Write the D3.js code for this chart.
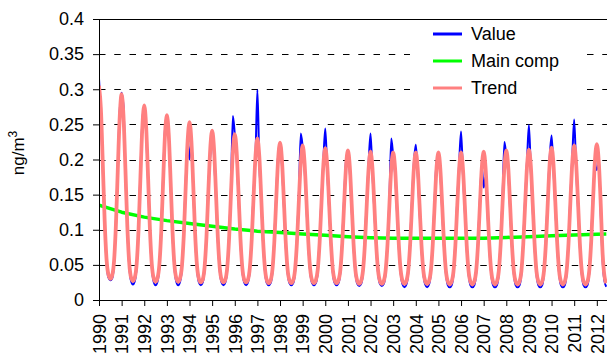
<!DOCTYPE html>
<html><head><meta charset="utf-8">
<script src="https://cdn.jsdelivr.net/npm/d3@7"></script>
<style>
body{margin:0;background:#fff}
svg{display:block}
text{font-family:Arial,"Liberation Sans",sans-serif;fill:#000}
</style>
</head><body>
<svg id="chart" width="607" height="358"></svg>
<script>
// ---- data ----
const startYear = 1990;
const yearTicks = d3.range(1990, 2013);
const yTicks = [0, 0.05, 0.1, 0.15, 0.2, 0.25, 0.3, 0.35, 0.4];
const seriesNames = ["Value", "Main comp", "Trend"];
const seriesColors = ["#0000ff", "#00ff00", "#ff8080"];

// monthly Trend, Jan 1990 .. Jun 2012
const trendValues = [
  0.305,0.272,0.195,0.113,0.058,0.036,0.030,0.035,0.056,0.109,0.188,0.261, // 1990
  0.293,0.261,0.187,0.107,0.054,0.032,0.027,0.032,0.052,0.102,0.177,0.247, // 1991
  0.277,0.247,0.177,0.101,0.051,0.031,0.026,0.031,0.050,0.097,0.168,0.235, // 1992
  0.263,0.235,0.168,0.097,0.050,0.031,0.026,0.031,0.049,0.094,0.162,0.226, // 1993
  0.253,0.226,0.162,0.093,0.048,0.030,0.025,0.029,0.047,0.090,0.155,0.215, // 1994
  0.241,0.215,0.155,0.090,0.047,0.029,0.025,0.029,0.046,0.088,0.152,0.211, // 1995
  0.236,0.211,0.152,0.088,0.046,0.029,0.025,0.029,0.046,0.087,0.148,0.205, // 1996
  0.230,0.205,0.148,0.086,0.045,0.028,0.024,0.028,0.044,0.084,0.144,0.200, // 1997
  0.224,0.200,0.144,0.084,0.044,0.028,0.024,0.028,0.044,0.083,0.142,0.196, // 1998
  0.220,0.196,0.142,0.083,0.044,0.028,0.024,0.028,0.043,0.082,0.139,0.193, // 1999
  0.216,0.193,0.139,0.082,0.043,0.028,0.024,0.028,0.043,0.081,0.137,0.190, // 2000
  0.213,0.190,0.137,0.080,0.042,0.027,0.023,0.027,0.042,0.079,0.136,0.188, // 2001
  0.211,0.188,0.136,0.079,0.042,0.027,0.023,0.027,0.042,0.079,0.135,0.188, // 2002
  0.210,0.188,0.135,0.079,0.042,0.027,0.023,0.027,0.042,0.079,0.135,0.188, // 2003
  0.210,0.188,0.135,0.079,0.042,0.027,0.023,0.027,0.042,0.079,0.135,0.188, // 2004
  0.210,0.187,0.135,0.078,0.041,0.026,0.022,0.026,0.041,0.078,0.135,0.187, // 2005
  0.210,0.187,0.135,0.078,0.041,0.026,0.022,0.026,0.041,0.079,0.135,0.188, // 2006
  0.211,0.188,0.135,0.079,0.041,0.026,0.022,0.026,0.041,0.079,0.137,0.190, // 2007
  0.213,0.190,0.137,0.079,0.041,0.026,0.022,0.026,0.041,0.080,0.137,0.191, // 2008
  0.214,0.191,0.137,0.080,0.041,0.026,0.022,0.026,0.042,0.081,0.139,0.194, // 2009
  0.217,0.194,0.139,0.081,0.042,0.026,0.022,0.026,0.042,0.081,0.141,0.196, // 2010
  0.220,0.196,0.141,0.081,0.042,0.026,0.022,0.026,0.042,0.082,0.142,0.198, // 2011
  0.222,0.198,0.142,0.070,0.035,0.024                                      // 2012
];

// monthly Value, Jan 1990 .. Jun 2012
const valueValues = [
  0.315,0.262,0.187,0.108,0.054,0.032,0.028,0.031,0.053,0.115,0.196,0.270, // 1990
  0.295,0.275,0.180,0.102,0.050,0.027,0.022,0.027,0.049,0.108,0.185,0.255, // 1991
  0.276,0.239,0.169,0.096,0.047,0.026,0.021,0.026,0.047,0.103,0.176,0.243, // 1992
  0.260,0.232,0.160,0.092,0.046,0.026,0.021,0.026,0.046,0.100,0.170,0.224, // 1993
  0.200,0.232,0.154,0.088,0.044,0.025,0.021,0.025,0.044,0.096,0.163,0.205, // 1994
  0.240,0.205,0.147,0.085,0.043,0.025,0.021,0.025,0.043,0.094,0.160,0.262, // 1995
  0.236,0.203,0.144,0.083,0.042,0.025,0.021,0.025,0.043,0.093,0.156,0.205, // 1996
  0.299,0.197,0.140,0.081,0.041,0.024,0.021,0.024,0.041,0.090,0.152,0.206, // 1997
  0.222,0.192,0.136,0.079,0.040,0.024,0.021,0.024,0.041,0.089,0.150,0.237, // 1998
  0.218,0.188,0.134,0.078,0.040,0.024,0.021,0.024,0.040,0.088,0.147,0.200, // 1999
  0.244,0.185,0.131,0.077,0.039,0.024,0.021,0.024,0.040,0.087,0.145,0.198, // 2000
  0.211,0.182,0.129,0.075,0.038,0.023,0.020,0.023,0.039,0.085,0.144,0.196, // 2001
  0.237,0.180,0.128,0.074,0.038,0.023,0.020,0.023,0.039,0.085,0.143,0.230, // 2002
  0.205,0.180,0.127,0.074,0.038,0.022,0.018,0.022,0.039,0.085,0.143,0.196, // 2003
  0.221,0.180,0.127,0.074,0.038,0.022,0.018,0.022,0.039,0.085,0.143,0.196, // 2004
  0.205,0.180,0.127,0.073,0.037,0.021,0.018,0.021,0.038,0.084,0.143,0.195, // 2005
  0.240,0.179,0.127,0.073,0.037,0.021,0.018,0.021,0.038,0.085,0.143,0.190, // 2006
  0.160,0.175,0.127,0.074,0.037,0.021,0.018,0.021,0.038,0.085,0.145,0.225, // 2007
  0.205,0.182,0.129,0.074,0.037,0.021,0.018,0.021,0.038,0.086,0.145,0.199, // 2008
  0.249,0.183,0.129,0.075,0.037,0.021,0.018,0.021,0.039,0.087,0.147,0.202, // 2009
  0.234,0.186,0.131,0.076,0.038,0.021,0.018,0.021,0.039,0.087,0.149,0.204, // 2010
  0.257,0.188,0.133,0.076,0.038,0.021,0.018,0.021,0.039,0.088,0.150,0.190, // 2011
  0.185,0.206,0.130,0.060,0.028,0.019                                      // 2012
];

// Main component (yearly)
const mainYears  = [1990,1991,1992,1993,1994,1995,1996,1997,1998,1999,2000,2001,2002,2003,2004,2005,2006,2007,2008,2009,2010,2011,2012,2012.42];
const mainValues = [0.135,0.125,0.118,0.113,0.109,0.105,0.101,0.098,0.096,0.094,0.092,0.090,0.0887,0.088,0.088,0.088,0.088,0.088,0.089,0.090,0.0915,0.0925,0.0935,0.094];

// ---- chart ----
const W = 607, H = 358;
const m = {left: 99, top: 19, right: 0, bottom: 58};
const svg = d3.select("#chart");

const x = d3.scaleLinear().domain([1990, 2012.45]).range([m.left, W - m.right]);
const y = d3.scaleLinear().domain([0, 0.4]).range([H - m.bottom, m.top]);

const monthX = i => startYear + i / 12;

// gridlines
svg.append("g").selectAll("line")
  .data(yTicks.filter(d => d > 0 && d < 0.4))
  .join("line")
  .attr("x1", x.range()[0]).attr("x2", x.range()[1])
  .attr("y1", d => Math.round(y(d)) + 0.5).attr("y2", d => Math.round(y(d)) + 0.5)
  .attr("stroke", "#000").attr("stroke-width", 1)
  .attr("stroke-dasharray", "6.5,8.75");

// top border
svg.append("line")
  .attr("x1", x.range()[0]).attr("x2", x.range()[1])
  .attr("y1", y(0.4) + 0.5).attr("y2", y(0.4) + 0.5)
  .attr("stroke", "#000").attr("stroke-width", 1);

// legend background
svg.append("rect").attr("x", 410).attr("y", 21).attr("width", 170).attr("height", 80).attr("fill", "#fff");

// clip
svg.append("clipPath").attr("id", "clip").append("rect")
  .attr("x", x.range()[0]).attr("y", y(0.4)).attr("width", x.range()[1] - x.range()[0]).attr("height", y(0) - y(0.4));

const plot = svg.append("g").attr("clip-path", "url(#clip)");

const lineValue = d3.line().x((d, i) => x(monthX(i))).y(d => y(d)).curve(d3.curveMonotoneX);
const lineTrend = d3.line().x((d, i) => x(monthX(i))).y(d => y(d)).curve(d3.curveMonotoneX);
const lineMain = d3.line().x((d, i) => x(mainYears[i])).y(d => y(d));

plot.append("path").datum(valueValues).attr("d", lineValue)
  .attr("fill", "none").attr("stroke", seriesColors[0]).attr("stroke-width", 2).attr("stroke-linejoin", "round");
plot.append("path").datum(mainValues).attr("d", lineMain)
  .attr("fill", "none").attr("stroke", seriesColors[1]).attr("stroke-width", 3.5).attr("stroke-linejoin", "round");
plot.append("path").datum(trendValues).attr("d", lineTrend)
  .attr("fill", "none").attr("stroke", seriesColors[2]).attr("stroke-width", 3.8).attr("stroke-linejoin", "round");

// axes
const yAxis = d3.axisLeft(y).tickValues(yTicks).tickSize(6).tickSizeOuter(0).tickPadding(9)
  .tickFormat(d => String(+d.toFixed(2)));
const gy = svg.append("g").attr("transform", `translate(${m.left},0)`).call(yAxis);
gy.selectAll("text").attr("font-size", 18).style("font-family", 'Arial,"Liberation Sans",sans-serif');
gy.select(".domain").attr("stroke", "#000");

const xAxis = d3.axisBottom(x).tickValues(yearTicks).tickSize(6).tickSizeOuter(0).tickFormat(d3.format("d"));
const gx = svg.append("g").attr("transform", `translate(0,${H - m.bottom})`).call(xAxis);
gx.selectAll("text")
  .attr("font-size", 18).style("font-family", 'Arial,"Liberation Sans",sans-serif')
  .attr("text-anchor", "end")
  .attr("x", 0).attr("y", 0).attr("dy", "0.35em")
  .attr("transform", "translate(0,14) rotate(-90)");

// y title
const yt = svg.append("text")
  .attr("transform", `translate(24,153) rotate(-90)`)
  .attr("text-anchor", "middle").attr("font-size", 17);
yt.append("tspan").text("ng/m");
yt.append("tspan").attr("dy", -7).attr("font-size", 12).text("3");

// legend
const legend = svg.append("g");
const legendY = [34, 61, 88];
seriesNames.forEach((name, i) => {
  legend.append("line").attr("x1", 433).attr("x2", 462).attr("y1", legendY[i]).attr("y2", legendY[i])
    .attr("stroke", seriesColors[i]).attr("stroke-width", 3);
  legend.append("text").attr("x", 471).attr("y", legendY[i]).attr("dy", "0.35em")
    .attr("font-size", 18).text(name);
});
</script>
</body></html>
